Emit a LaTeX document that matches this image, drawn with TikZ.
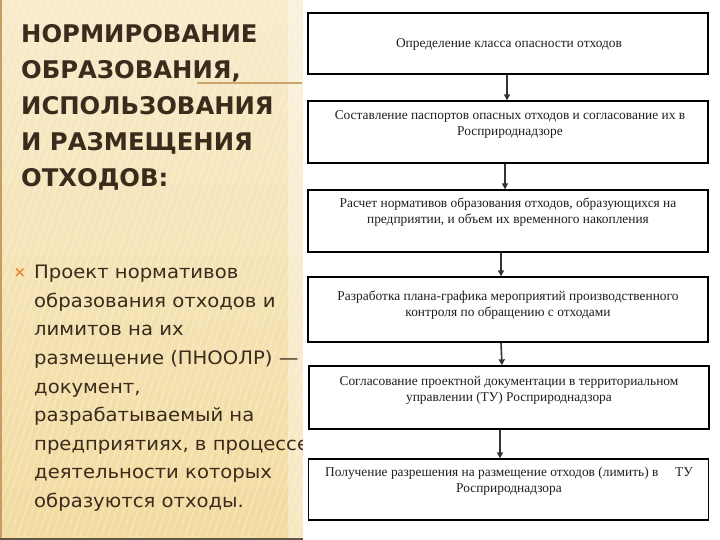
\documentclass[tikz,border=0pt]{standalone}
\usepackage{fontspec}
\setmainfont{Liberation Serif}
\newfontfamily\titlefont{DejaVu Sans}
\newfontfamily\bodyfont[FakeStretch=1.06]{DejaVu Sans}
\usetikzlibrary{arrows.meta}
\definecolor{beigetop}{HTML}{F8EBCB}
\definecolor{beigebot}{HTML}{F2DB9F}
\definecolor{darkbrown}{HTML}{3A2B1C}
\definecolor{tanline}{HTML}{C9A66B}
\definecolor{bulletorange}{HTML}{E8893A}
\definecolor{boxtext}{HTML}{1E1E1E}
\tikzset{
  boxst/.style={draw=black, line width=1.3pt, minimum width=400pt, inner sep=0pt, fill=white},
  boxtxt/.style={text=boxtext, font=\fontsize{13.4}{16}\selectfont, align=center, inner sep=0pt, anchor=north},
  arr/.style={draw=black!80, line width=1.6pt, -{Triangle[length=6pt,width=6pt]}},
  titlest/.style={text=darkbrown, font=\titlefont\bfseries\fontsize{24.3}{36}\selectfont, align=left, inner sep=0pt, anchor=north west},
  bodyst/.style={text=darkbrown, font=\bodyfont\fontsize{18.5}{28.6}\selectfont, align=left, inner sep=0pt, anchor=north west}
}
\begin{document}
\begin{tikzpicture}[x=1pt,y=-1pt]
\useasboundingbox (0,0) rectangle (720,540);
% left panel background
\shade[top color=beigetop, bottom color=beigebot] (0,0) rectangle (303,540);
\begin{scope}
  \clip (0,0) rectangle (303,540);
  \foreach \i in {0,7,...,500} {
    \draw[white, opacity=0.22, line width=1.6pt] (\i-180,540) -- (\i,0);
  }
  \fill[white, opacity=0.35] (288,0) rectangle (303,540);
\end{scope}
\draw[tanline!80!brown, line width=2pt] (1,0) -- (1,540);
\draw[darkbrown!80, line width=2.5pt] (0,539) -- (303,539);
% separator line under title
\draw[tanline, line width=1.6pt] (197,83) -- (302,83);
% title
\node[titlest] (title) at (21,24) {НОРМИРОВАНИЕ\\ОБРАЗОВАНИЯ,\\ИСПОЛЬЗОВАНИЯ\\И РАЗМЕЩЕНИЯ\\ОТХОДОВ:};
% bullet and body
\node[text=bulletorange, font=\titlefont\bfseries\fontsize{15}{15}\selectfont, inner sep=0pt] (bul) at (20,273) {×};
\node[bodyst] (body) at (34,265) {Проект нормативов\\образования отходов и\\лимитов на их\\размещение (ПНООЛР) —\\документ,\\разрабатываемый на\\предприятиях, в процессе\\деятельности которых\\образуются отходы.};
% right panel
\fill[white] (303,0) rectangle (720,540);
% boxes
\node[boxst, minimum height=61pt] (b1) at (508,43.5) {};
\node[boxst, minimum height=62pt] (b2) at (508,132) {};
\node[boxst, minimum height=62pt] (b3) at (508,221) {};
\node[boxst, minimum height=65pt] (b4) at (508,309.5) {};
\node[boxst, minimum height=63pt] (b5) at (509,397.5) {};
\node[boxst, minimum height=61pt] (b6) at (508.5,489.5) {};
% box texts
\node[boxtxt] (t1) at (509,38) {Определение класса опасности отходов};
\node[boxtxt] (t2) at (510,110) {Составление паспортов опасных отходов и согласование их в\\Росприроднадзоре};
\node[boxtxt] (t3) at (508,198) {Расчет нормативов образования отходов, образующихся на\\предприятии, и объем их временного накопления};
\node[boxtxt] (t4) at (508,291) {Разработка плана-графика мероприятий производственного\\контроля по обращению с отходами};
\node[boxtxt] (t5) at (509,376) {Согласование проектной документации в территориальном\\управлении (ТУ) Росприроднадзора};
\node[boxtxt] (t6) at (509,467) {Получение разрешения на размещение отходов (лимить) в\hspace{1em} ТУ\\Росприроднадзора};
% arrows
\draw[arr] ([xshift=-1pt]b1.south) -- ([xshift=-1pt]b2.north);
\draw[arr] ([xshift=-3pt]b2.south) -- ([xshift=-3pt]b3.north);
\draw[arr] ([xshift=-7pt]b3.south) -- ([xshift=-7pt]b4.north);
\draw[arr] ([xshift=-7pt]b4.south) -- ([xshift=-7pt]b5.north);
\draw[arr] ([xshift=-9pt]b5.south) -- ([xshift=-8.5pt]b6.north);
\end{tikzpicture}
\end{document}
